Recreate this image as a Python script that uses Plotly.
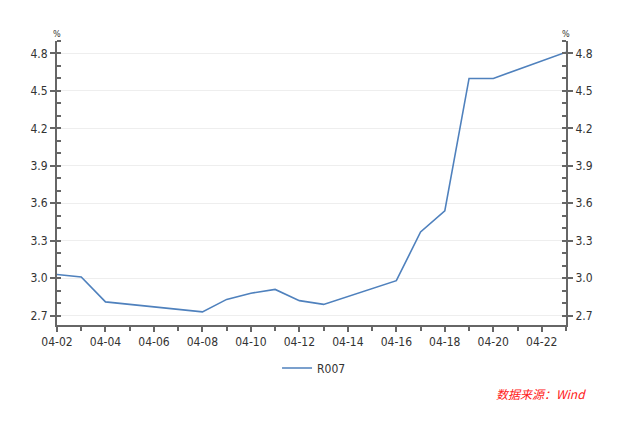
import plotly.graph_objects as go

# R007 daily rates (%), trading days only
dates = ['2018-04-02', '2018-04-03', '2018-04-04', '2018-04-08', '2018-04-09',
         '2018-04-10', '2018-04-11', '2018-04-12', '2018-04-13', '2018-04-16',
         '2018-04-17', '2018-04-18', '2018-04-19', '2018-04-20', '2018-04-23']
r007 = [3.03, 3.01, 2.81, 2.73, 2.83,
        2.88, 2.91, 2.82, 2.79, 2.98,
        3.37, 3.54, 4.60, 4.60, 4.81]

y_ticks = [2.7, 3.0, 3.3, 3.6, 3.9, 4.2, 4.5, 4.8]
y_range = [2.625, 4.9]

font_fam = "DejaVu Sans Condensed, Liberation Sans, Arial, sans-serif"
axis_col = '#666666'
text_col = '#333333'

# page body has an 8px margin, so the figure is a bit smaller than the window
W, H = 632, 415

fig = go.Figure()
fig.add_trace(go.Scatter(x=dates, y=r007, mode='lines', name='R007',
                         line=dict(color='#4f81bd', width=1.6)))
# invisible copy so the right axis shows
fig.add_trace(go.Scatter(x=dates, y=r007, mode='lines', yaxis='y2',
                         showlegend=False, hoverinfo='skip',
                         line=dict(color='rgba(0,0,0,0)', width=0)))

fig.update_layout(
    width=W, height=H,
    margin=dict(l=49, r=74, t=33, b=98, autoexpand=False),
    paper_bgcolor='white', plot_bgcolor='white',
    font=dict(family=font_fam, size=12, color=text_col),
    showlegend=True,
    legend=dict(orientation='h', x=0.505, xanchor='center',
                yref='container', y=1 - 360 / H, yanchor='middle',
                font=dict(size=12, color=text_col), itemwidth=30),
    xaxis=dict(
        type='date', range=['2018-04-02', '2018-04-23'], automargin=False,
        tickformat='%m-%d', tick0='2018-04-02', dtick=2 * 86400000,
        ticks='outside', ticklen=5, tickwidth=1.5, tickcolor=axis_col,
        minor=dict(dtick=86400000, ticks='outside', ticklen=4, tickcolor=axis_col),
        showline=True, linecolor=axis_col, linewidth=2,
        showgrid=False, zeroline=False,
        tickfont=dict(size=12, color=text_col),
    ),
    yaxis=dict(
        range=y_range, tickvals=y_ticks, tickformat='.1f', automargin=False,
        ticks='outside', ticklen=5, tickwidth=1.5, tickcolor=axis_col,
        minor=dict(dtick=0.1, tick0=2.7, ticks='inside', ticklen=4, tickcolor=axis_col,
                   showgrid=False),
        showline=True, linecolor=axis_col, linewidth=2,
        showgrid=True, gridcolor='#eeeeee', gridwidth=1, zeroline=False,
        tickfont=dict(size=12, color=text_col),
    ),
    yaxis2=dict(
        overlaying='y', side='right', anchor='x', automargin=False,
        range=y_range, tickvals=y_ticks, tickformat='.1f',
        ticks='outside', ticklen=5, tickwidth=1.5, tickcolor=axis_col,
        minor=dict(dtick=0.1, tick0=2.7, ticks='inside', ticklen=4, tickcolor=axis_col,
                   showgrid=False),
        showline=True, linecolor=axis_col, linewidth=2,
        showgrid=False, zeroline=False,
        tickfont=dict(size=12, color=text_col),
    ),
)

fig.add_annotation(text='%', xref='paper', yref='paper', x=0, y=1.0,
                   xanchor='center', yanchor='bottom', showarrow=False,
                   font=dict(size=9, color=text_col))
fig.add_annotation(text='%', xref='paper', yref='paper', x=1, y=1.0,
                   xanchor='center', yanchor='bottom', showarrow=False,
                   font=dict(size=9, color=text_col))
fig.add_annotation(text='<i>数据来源：Wind</i>', xref='paper', yref='paper',
                   x=(588 - 57) / 509, y=(325 - 393) / 284,
                   xanchor='right', yanchor='middle', showarrow=False,
                   font=dict(size=12, color='#ff2020',
                             family='Noto Sans CJK SC, sans-serif'))

fig.write_html("out.html")
